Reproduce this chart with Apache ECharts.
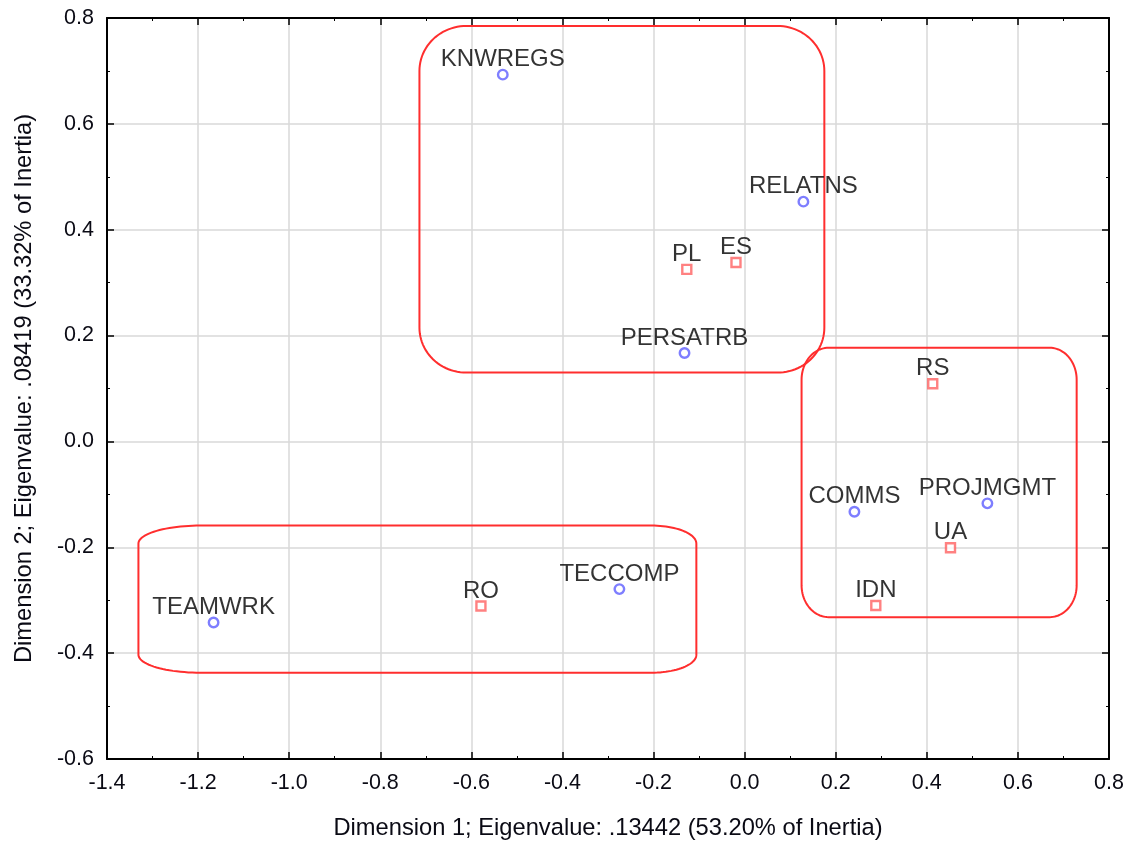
<!DOCTYPE html>
<html>
<head>
<meta charset="utf-8">
<script src="https://cdn.jsdelivr.net/npm/echarts@6/dist/echarts.min.js"></script>
<style>
  html, body { margin: 0; padding: 0; background: #ffffff; }
  #chart { width: 1132px; height: 841px; }
</style>
</head>
<body>
<div id="chart"></div>
<script>
// Column profile points (blue circles)
const colLabels = ['KNWREGS', 'RELATNS', 'PERSATRB', 'COMMS', 'PROJMGMT', 'TECCOMP', 'TEAMWRK'];
const colDim1   = [-0.531, 0.129, -0.132, 0.241, 0.533, -0.275, -1.166];
const colDim2   = [0.693, 0.453, 0.167, -0.133, -0.117, -0.279, -0.342];

// Row profile points (red squares)
const rowLabels = ['PL', 'ES', 'RS', 'UA', 'IDN', 'RO'];
const rowDim1   = [-0.127, -0.019, 0.413, 0.452, 0.288, -0.579];
const rowDim2   = [0.325, 0.338, 0.109, -0.201, -0.310, -0.311];

// Axis ranges
const xRange = [-1.4, 0.8];
const yRange = [-0.6, 0.8];
const tickStep = 0.2;

const xTitle = 'Dimension 1; Eigenvalue: .13442 (53.20% of Inertia)';
const yTitle = 'Dimension 2; Eigenvalue: .08419 (33.32% of Inertia)';

// Cluster outlines, in data units, with corner radii in pixels
const clusterOutlines = [
  { x0: -0.714, x1: 0.175, y0: 0.130, y1: 0.785, rxL: 47, rxR: 47, ry: 45 },
  { x0: 0.125, x1: 0.729, y0: -0.332, y1: 0.177, rxL: 27, rxR: 27, ry: 32 },
  { x0: -1.331, x1: -0.106, y0: -0.437, y1: -0.159, rxL: 62, rxR: 45, ry: 18 }
];

const FONT = "'Liberation Sans', Arial, Helvetica, sans-serif";
const fmt = v => (Math.abs(v) < 1e-9 ? '0.0' : v.toFixed(1));

const chart = echarts.init(document.getElementById('chart'), null, { renderer: 'canvas' });

function frameAxis(position, showLabels) {
  const horizontal = position === 'bottom' || position === 'top';
  return {
    type: 'value',
    position: position,
    min: horizontal ? xRange[0] : yRange[0],
    max: horizontal ? xRange[1] : yRange[1],
    interval: tickStep,
    axisLine: { show: true, onZero: false, lineStyle: { color: '#000', width: 2 } },
    axisTick: { show: true, inside: true, length: 7, lineStyle: { color: '#000', width: 1.5 } },
    minorTick: { show: true, splitNumber: 2, length: 3, lineStyle: { color: '#000', width: 1 } },
    splitLine: { show: showLabels, lineStyle: { color: '#d9d9d9', width: 1.5 } },
    axisLabel: {
      show: showLabels,
      formatter: fmt,
      color: '#0a0a14',
      fontSize: 21.5,
      fontFamily: FONT,
      margin: 13
    }
  };
}

const xBottom = Object.assign(frameAxis('bottom', true), {
  name: xTitle,
  nameLocation: 'middle',
  nameGap: 57,
  nameTextStyle: { color: '#0a0a14', fontSize: 23.7, fontFamily: FONT }
});
const yLeft = Object.assign(frameAxis('left', true), {
  name: yTitle,
  nameLocation: 'middle',
  nameGap: 71,
  nameTextStyle: { color: '#0a0a14', fontSize: 23.7, fontFamily: FONT }
});

const labelStyle = {
  show: true,
  position: 'inside',
  offset: [0, -15],
  color: '#000',
  fontSize: 24,
  fontFamily: FONT,
  formatter: p => p.data[2]
};

chart.setOption({
  animation: false,
  backgroundColor: '#ffffff',
  grid: { left: 107, right: 23, top: 18, bottom: 82, containLabel: false, outerBoundsMode: 'none' },
  xAxis: [xBottom, frameAxis('top', false)],
  yAxis: [yLeft, frameAxis('right', false)],
  series: [
    {
      type: 'scatter',
      xAxisIndex: 0, yAxisIndex: 0,
      symbol: 'circle',
      symbolSize: 9.5,
      itemStyle: { color: '#ffffff', borderColor: '#5e5eff', borderWidth: 2.4 },
      label: labelStyle,
      data: colDim1.map((x, i) => [x, colDim2[i], colLabels[i]]),
      z: 4
    },
    {
      type: 'scatter',
      xAxisIndex: 0, yAxisIndex: 0,
      symbol: 'rect',
      symbolSize: 9,
      itemStyle: { color: '#ffffff', borderColor: '#ff6262', borderWidth: 2.4 },
      label: labelStyle,
      data: rowDim1.map((x, i) => [x, rowDim2[i], rowLabels[i]]),
      z: 4
    }
  ]
});

// Rounded outline around each cluster, traced as a closed polygon
function outlinePoints(b) {
  const tl = chart.convertToPixel({ xAxisIndex: 0, yAxisIndex: 0 }, [b.x0, b.y1]);
  const br = chart.convertToPixel({ xAxisIndex: 0, yAxisIndex: 0 }, [b.x1, b.y0]);
  const L = tl[0], T = tl[1], R = br[0], B = br[1];
  const corners = [
    { cx: L + b.rxL, cy: T + b.ry, rx: b.rxL, a0: Math.PI },
    { cx: R - b.rxR, cy: T + b.ry, rx: b.rxR, a0: 1.5 * Math.PI },
    { cx: R - b.rxR, cy: B - b.ry, rx: b.rxR, a0: 0 },
    { cx: L + b.rxL, cy: B - b.ry, rx: b.rxL, a0: 0.5 * Math.PI }
  ];
  const pts = [];
  const steps = 24;
  corners.forEach(c => {
    for (let k = 0; k <= steps; k++) {
      const a = c.a0 + (k / steps) * 0.5 * Math.PI;
      pts.push([c.cx + c.rx * Math.cos(a), c.cy + b.ry * Math.sin(a)]);
    }
  });
  return pts;
}

chart.setOption({
  graphic: clusterOutlines.map(b => ({
    type: 'polygon',
    z: 3,
    silent: true,
    shape: { points: outlinePoints(b) },
    style: { fill: 'none', stroke: '#ff2e2e', lineWidth: 2 }
  }))
});
</script>
</body>
</html>
